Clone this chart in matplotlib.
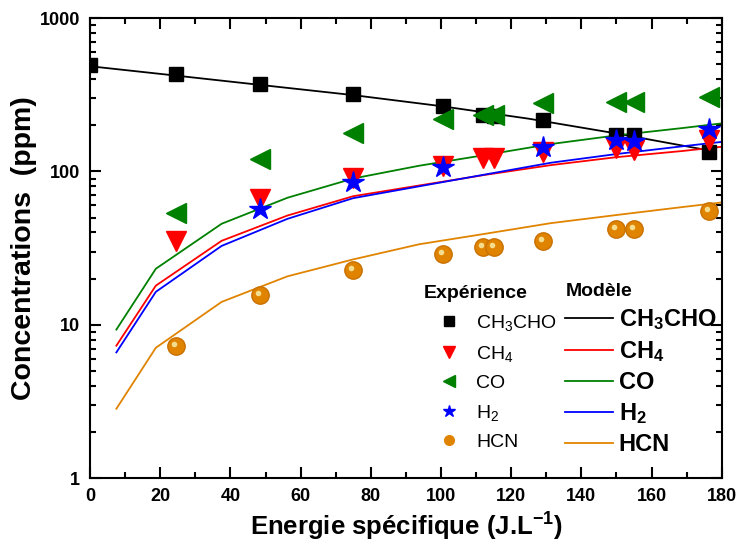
import numpy as np
import matplotlib
matplotlib.use('Agg')
import matplotlib.pyplot as plt
import matplotlib.transforms as mtransforms
from matplotlib.lines import Line2D

plt.rcParams['font.family'] = ['Liberation Sans', 'DejaVu Sans']
plt.rcParams['mathtext.default'] = 'regular'

# Experimental points
x_ch3cho = [0, 24.5, 48.5, 75, 100.5, 112, 115, 129, 150, 155, 176.5]
y_ch3cho = [493, 430, 375, 319, 267, 233, 230, 216, 173, 173, 134]

x_ch4 = [24.5, 48.5, 75, 100.5, 112, 115, 129, 150, 155, 176.5]
y_ch4 = [35, 66, 91, 109, 123, 123, 134, 142, 138, 160]

x_co = [24.5, 48.5, 75, 100.5, 112, 115, 129, 150, 155, 176.5]
y_co = [54, 121, 178, 220, 235, 235, 280, 282, 282, 307]

x_h2 = [48.5, 75, 100.5, 129, 150, 155, 176.5]
y_h2 = [57, 85, 107, 144, 160, 158, 190]

x_hcn = [24.5, 48.5, 75, 100.5, 112, 115, 129, 150, 155, 176.5]
y_hcn = [7.3, 15.7, 22.9, 28.9, 32.2, 32.2, 35.1, 42, 42, 55]

# Model curves
xm_ch3cho = [0, 25, 50, 75, 100, 125, 150, 176.5]
ym_ch3cho = [486, 421, 364, 315, 267, 221, 177, 137]

xm = [7.5, 18.75, 37.5, 56.25, 75, 93.75, 112.5, 131.25, 150, 168.75, 180]
ym_ch4 = [7.3, 18.0, 35.3, 51.6, 69, 81, 95, 110, 124, 136, 145]
ym_co = [9.3, 23.2, 45.6, 67.4, 90, 109, 128, 151, 172, 192, 206]
ym_h2 = [6.6, 16.4, 32.7, 49.1, 67, 80, 95.5, 114, 130, 146, 156]
ym_hcn = [2.83, 7.08, 14.1, 20.7, 26.7, 33.5, 39.2, 46, 52, 58.6, 62.8]

labels = ['CH$_3$CHO', 'CH$_4$', 'CO', 'H$_2$', 'HCN']

GREEN = '#008000'
ORANGE = '#E08400'

fig = plt.figure(figsize=(7.38, 5.52), dpi=100)
ax = fig.add_axes([0.122, 0.134, 0.856, 0.833])

lw = 1.3
ax.plot(xm_ch3cho, ym_ch3cho, '-', color='black', lw=lw, zorder=2)
ax.plot(xm, ym_ch4, '-', color='red', lw=lw, zorder=2)
ax.plot(xm, ym_co, '-', color=GREEN, lw=lw, zorder=2)
ax.plot(xm, ym_h2, '-', color='blue', lw=lw, zorder=2)
ax.plot(xm, ym_hcn, '-', color=ORANGE, lw=lw, zorder=2)

ax.plot(x_ch3cho, y_ch3cho, 's', color='black', ms=10.5, zorder=3)
ax.plot(x_ch4, y_ch4, 'v', color='red', ms=14, zorder=3)
ax.plot(x_co, y_co, '<', color=GREEN, ms=14, zorder=3)
ax.plot(x_h2, y_h2, '*', color='blue', ms=16, zorder=3)
ax.plot(x_hcn, y_hcn, 'o', color=ORANGE, mec='#C87000', ms=12.5, zorder=3)
# highlight on the spheres
hl = mtransforms.offset_copy(ax.transData, fig=fig, x=-1.5, y=1.5, units='points')
ax.plot(x_hcn, y_hcn, 'o', color='#F8E8A0', mec='none', ms=4, alpha=0.9,
        transform=hl, zorder=4)

ax.set_yscale('log')
ax.set_xlim(0, 180)
ax.set_ylim(1, 1000)
ax.set_xticks(np.arange(0, 181, 20))
ax.set_xticks(np.arange(0, 181, 10), minor=True)
ax.set_yticks([1, 10, 100, 1000])
ax.set_yticklabels(['1', '10', '100', '1000'])

for sp in ax.spines.values():
    sp.set_linewidth(1.5)
ax.tick_params(which='both', direction='in', top=True, right=True, width=1.5,
               labelsize=13)
ax.tick_params(which='major', length=8, pad=7)
ax.tick_params(which='minor', length=4.5)
for t in ax.get_xticklabels() + ax.get_yticklabels():
    t.set_fontweight('bold')

ax.set_xlabel('Energie spécifique (J.L$^{-1}$)', fontsize=18.5, fontweight='bold',
              labelpad=4)
ax.set_ylabel('Concentrations  (ppm)', fontsize=20.5, fontweight='bold', labelpad=2)

# legends
exp_handles = [
    Line2D([], [], ls='none', marker='s', color='black', ms=7),
    Line2D([], [], ls='none', marker='v', color='red', ms=8),
    Line2D([], [], ls='none', marker='<', color=GREEN, ms=8),
    Line2D([], [], ls='none', marker='*', color='blue', ms=9),
    Line2D([], [], ls='none', marker='o', color=ORANGE, ms=7),
]
mod_handles = [
    Line2D([], [], color='black', lw=lw),
    Line2D([], [], color='red', lw=lw),
    Line2D([], [], color=GREEN, lw=lw),
    Line2D([], [], color='blue', lw=lw),
    Line2D([], [], color=ORANGE, lw=lw),
]
leg1 = ax.legend(exp_handles, labels, title='Expérience', loc='upper left',
                 bbox_to_anchor=(0.50, 0.457), frameon=False, fontsize=14,
                 handlelength=2.6, handletextpad=0.1, labelspacing=0.55,
                 title_fontproperties={'weight': 'bold', 'size': 14})
ax.add_artist(leg1)
leg2 = ax.legend(mod_handles, labels, title='Modèle', loc='upper left',
                 bbox_to_anchor=(0.719, 0.47), frameon=False,
                 prop={'weight': 'bold', 'size': 17},
                 handlelength=2.0, handletextpad=0.25, labelspacing=0.3,
                 title_fontproperties={'weight': 'bold', 'size': 14})
leg1._legend_box.align = 'left'
leg2._legend_box.align = 'left'

fig.savefig('out.png', dpi=100)
